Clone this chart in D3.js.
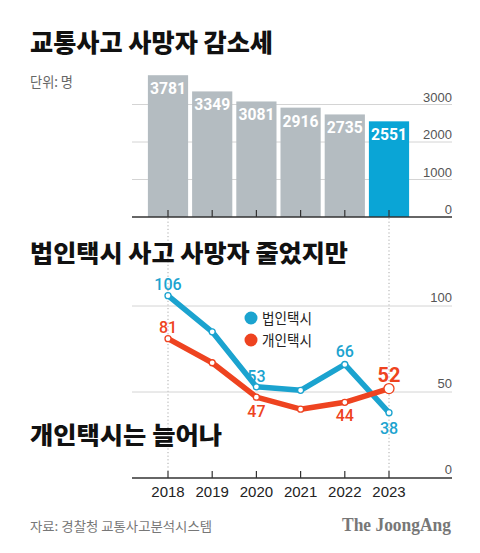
<!DOCTYPE html>
<html>
<head>
<meta charset="utf-8">
<script src="https://cdn.jsdelivr.net/npm/d3@7"></script>
<style>
  body { margin: 0; background: #fff; }
  text { font-family: "Liberation Sans", Arial, sans-serif; }
  text.kr { font-family: "Noto Sans CJK KR", sans-serif; }
  text.num { font-family: Roboto, sans-serif; }
  text.logo { font-family: "Liberation Serif", "DejaVu Serif", serif; }
</style>
</head>
<body>
<div id="chart"></div>
<script>
// data
var years = [2018, 2019, 2020, 2021, 2022, 2023];
var totalDeaths = [3781, 3349, 3081, 2916, 2735, 2551];
var corpTaxi = [106, 85, 53, 51, 66, 38];   // 법인택시
var privTaxi = [81, 67, 47, 40, 44, 52];    // 개인택시
var barTicks = [0, 1000, 2000, 3000];
var lineTicks = [0, 50, 100];
var seriesNames = ["법인택시", "개인택시"];

var W = 480, H = 553;
var gray = "#b4bcc1", blue = "#0aa5d6", lineBlue = "#1ba3cf", red = "#ee4320";

var svg = d3.select("#chart").append("svg")
    .attr("width", W).attr("height", H);

// shared x
var x = d3.scalePoint().domain(years).range([168, 389]);
var barW = x.step() - 4;
var axisL = 132, axisR = 452;

// ---------- titles ----------
svg.append("text").attr("class", "kr")
    .attr("x", 30).attr("y", 52)
    .attr("font-size", 25).attr("font-weight", 900).attr("fill", "#111")
    .attr("textLength", 243).attr("lengthAdjust", "spacingAndGlyphs")
    .text("교통사고 사망자 감소세");

svg.append("text").attr("class", "kr")
    .attr("x", 30).attr("y", 87)
    .attr("font-size", 14).attr("fill", "#666")
    .attr("textLength", 43).attr("lengthAdjust", "spacingAndGlyphs")
    .text("단위: 명");

// ---------- bar chart ----------
var yBar = d3.scaleLinear().domain([0, 3000]).range([217, 104.5]);

var gBar = svg.append("g");

gBar.selectAll(".grid").data(barTicks.slice(1)).enter().append("line")
    .attr("x1", axisL).attr("x2", axisR)
    .attr("y1", d => yBar(d)).attr("y2", d => yBar(d))
    .attr("stroke", "#d4d4d4").attr("stroke-width", 1);

gBar.selectAll(".tl").data(barTicks).enter().append("text")
    .attr("x", axisR).attr("y", d => yBar(d) - 3)
    .attr("text-anchor", "end").attr("font-size", 13).attr("fill", "#555")
    .text(d => d);

gBar.selectAll("rect").data(totalDeaths).enter().append("rect")
    .attr("x", (d, i) => x(years[i]) - barW / 2)
    .attr("y", d => yBar(d))
    .attr("width", barW)
    .attr("height", d => yBar(0) - yBar(d))
    .attr("fill", (d, i) => i === totalDeaths.length - 1 ? blue : gray);

gBar.selectAll(".bv").data(totalDeaths).enter().append("text")
    .attr("class", "num")
    .attr("x", (d, i) => x(years[i]))
    .attr("y", d => yBar(d) + 19)
    .attr("text-anchor", "middle")
    .attr("font-size", 17).attr("font-weight", 700).attr("fill", "#fff")
    .attr("textLength", 36).attr("lengthAdjust", "spacingAndGlyphs")
    .text(d => d);

gBar.append("line")
    .attr("x1", axisL).attr("x2", axisR)
    .attr("y1", yBar(0)).attr("y2", yBar(0))
    .attr("stroke", "#333").attr("stroke-width", 1.3);

gBar.selectAll(".tk").data(years).enter().append("line")
    .attr("x1", d => x(d)).attr("x2", d => x(d))
    .attr("y1", yBar(0) - 7).attr("y2", yBar(0))
    .attr("stroke", "#333").attr("stroke-width", 1.2);

// ---------- line chart ----------
var yLine = d3.scaleLinear().domain([0, 100]).range([478, 306]);

// dotted guides at first and last year
svg.selectAll(".guide").data([years[0], years[years.length - 1]]).enter().append("line")
    .attr("x1", d => x(d)).attr("x2", d => x(d))
    .attr("y1", yBar(0) + 1).attr("y2", yLine(0) - 6)
    .attr("stroke", "#aaa").attr("stroke-width", 1)
    .attr("stroke-dasharray", "1.2,2.4");

svg.append("text").attr("class", "kr")
    .attr("x", 30).attr("y", 262)
    .attr("font-size", 24).attr("font-weight", 900).attr("fill", "#111")
    .attr("textLength", 318).attr("lengthAdjust", "spacingAndGlyphs")
    .text("법인택시 사고 사망자 줄었지만");

svg.append("text").attr("class", "kr")
    .attr("x", 30).attr("y", 444)
    .attr("font-size", 24).attr("font-weight", 900).attr("fill", "#111")
    .attr("textLength", 192).attr("lengthAdjust", "spacingAndGlyphs")
    .text("개인택시는 늘어나");

var gLine = svg.append("g");

gLine.selectAll(".grid").data(lineTicks.slice(1)).enter().append("line")
    .attr("x1", axisL).attr("x2", axisR)
    .attr("y1", d => yLine(d)).attr("y2", d => yLine(d))
    .attr("stroke", "#d4d4d4").attr("stroke-width", 1);

gLine.selectAll(".tl").data(lineTicks).enter().append("text")
    .attr("x", axisR).attr("y", d => yLine(d) - 4)
    .attr("text-anchor", "end").attr("font-size", 13).attr("fill", "#555")
    .text(d => d);

var line = d3.line()
    .x((d, i) => x(years[i]))
    .y(d => yLine(d));

var series = [
  { name: seriesNames[0], values: corpTaxi, color: lineBlue },
  { name: seriesNames[1], values: privTaxi, color: red }
];

series.forEach(function (s) {
  gLine.append("path")
      .attr("d", line(s.values))
      .attr("fill", "none")
      .attr("stroke", s.color).attr("stroke-width", 5.5)
      .attr("stroke-linejoin", "round");
});

series.forEach(function (s, si) {
  gLine.selectAll(".pt" + si).data(s.values).enter().append("circle")
      .attr("cx", (d, i) => x(years[i]))
      .attr("cy", d => yLine(d))
      .attr("r", (d, i) => (si === 1 && i === s.values.length - 1) ? 5 : 3)
      .attr("fill", "#fff")
      .attr("stroke", s.color).attr("stroke-width", 1.3);
});

// value labels: index -> offset from point
var corpLabels = [[0, -6], [2, -5], [4, -7], [5, 21]];
var privLabels = [[0, -6], [2, 20], [4, 19], [5, -7]];

function addLabels(vals, placement, color, last) {
  gLine.selectAll(null).data(placement).enter().append("text")
      .attr("class", "num")
      .attr("x", p => x(years[p[0]]))
      .attr("y", p => yLine(vals[p[0]]) + p[1])
      .attr("text-anchor", "middle")
      .attr("font-weight", p => (last && p[0] === vals.length - 1) ? 700 : 500)
      .attr("font-size", p => (last && p[0] === vals.length - 1) ? 20 : 16)
      .attr("fill", color)
      .text(p => vals[p[0]]);
}
addLabels(corpTaxi, corpLabels, lineBlue, false);
addLabels(privTaxi, privLabels, red, true);

// legend
var leg = gLine.selectAll(".leg").data(series).enter().append("g")
    .attr("transform", (d, i) => "translate(251," + (318 + i * 22) + ")");
leg.append("circle").attr("r", 6.5).attr("fill", d => d.color);
leg.append("text").attr("class", "kr")
    .attr("x", 11).attr("y", 5.5)
    .attr("font-size", 15).attr("fill", "#222")
    .attr("textLength", 50).attr("lengthAdjust", "spacingAndGlyphs")
    .text(d => d.name);

gLine.append("line")
    .attr("x1", axisL).attr("x2", axisR)
    .attr("y1", yLine(0)).attr("y2", yLine(0))
    .attr("stroke", "#333").attr("stroke-width", 1.3);

gLine.selectAll(".tk").data(years).enter().append("line")
    .attr("x1", d => x(d)).attr("x2", d => x(d))
    .attr("y1", yLine(0) - 7).attr("y2", yLine(0))
    .attr("stroke", "#333").attr("stroke-width", 1.2);

gLine.selectAll(".yr").data(years).enter().append("text")
    .attr("x", d => x(d)).attr("y", yLine(0) + 19)
    .attr("text-anchor", "middle")
    .attr("font-size", 15).attr("fill", "#222")
    .text(d => d);

// footer
svg.append("text").attr("class", "kr")
    .attr("x", 30).attr("y", 531)
    .attr("font-size", 13).attr("fill", "#777")
    .attr("textLength", 182).attr("lengthAdjust", "spacingAndGlyphs")
    .text("자료: 경찰청 교통사고분석시스템");

svg.append("text").attr("class", "logo")
    .attr("x", 451).attr("y", 531)
    .attr("text-anchor", "end")
    .attr("font-weight", 700).attr("font-size", 18).attr("fill", "#777")
    .attr("textLength", 109).attr("lengthAdjust", "spacingAndGlyphs")
    .text("The JoongAng");
</script>
</body>
</html>
